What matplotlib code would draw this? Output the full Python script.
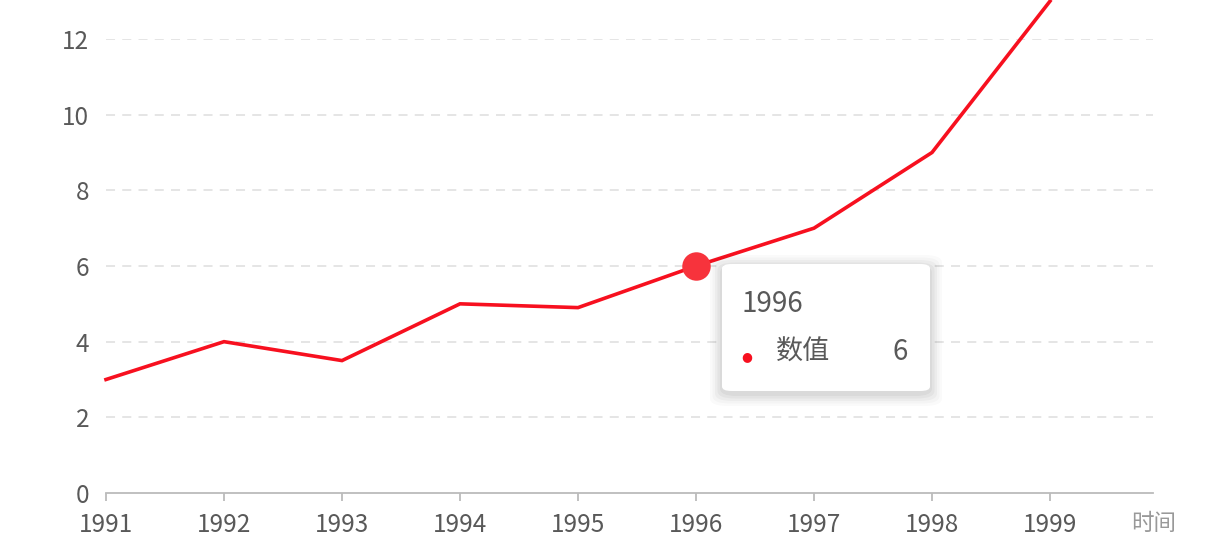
import matplotlib.pyplot as plt
from matplotlib.patches import FancyBboxPatch

plt.rcParams['font.family'] = ['Noto Sans CJK SC', 'DejaVu Sans']

years = [1991, 1992, 1993, 1994, 1995, 1996, 1997, 1998, 1999]
values = [3, 4, 3.5, 5, 4.9, 6, 7, 9, 13]
y_ticks = [0, 2, 4, 6, 8, 10, 12]
hl_year = 1996
hl_value = 6
series_name = "数值"
x_name = "时间"

W, H = 1210, 550
fig = plt.figure(figsize=(W / 100, H / 100), dpi=100)
ax = fig.add_axes([106 / W, 1 - 493 / H, (1153 - 106) / W, (493 - 39) / H])

ax.set_xlim(1991, 1991 + (1153 - 106) / 118)
ax.set_ylim(0, 12)

for t in y_ticks[1:]:
    ax.axhline(t, color="#e3e3e3", lw=1.3, ls=(0, (5, 4)), zorder=1)

ax.plot(years, values, color="#f7101f", lw=2.6, clip_on=False, zorder=3,
        solid_joinstyle="miter")
ax.scatter([hl_year], [hl_value], s=420, color="#f7333c", zorder=4, clip_on=False,
           linewidths=0)

for s in ["top", "right", "left"]:
    ax.spines[s].set_visible(False)
ax.spines["bottom"].set_color("#bbbbbb")
ax.spines["bottom"].set_linewidth(1.3)

ax.set_xticks(years)
ax.set_xticklabels([str(y) for y in years])
ax.set_yticks(y_ticks)
ax.tick_params(axis="x", colors="#bbbbbb", length=6, width=1.3, labelcolor="#595959",
               labelsize=17.5, pad=8)
ax.tick_params(axis="y", length=0, labelcolor="#595959", labelsize=17.5, pad=12)

fig.text(1131 / W, 1 - 523 / H, x_name, color="#999999", fontsize=16.2,
         va="center", ha="left")

# tooltip box with soft shadow
for i, a in enumerate([0.02, 0.025, 0.03, 0.035, 0.04]):
    g = 12 - i * 2.5
    sh = FancyBboxPatch(((722 - g) / W, 1 - (391 + g + 3) / H),
                        (208 + 2 * g) / W, (127 + 2 * g) / H,
                        boxstyle="round,pad=0,rounding_size=0.014",
                        transform=fig.transFigure, facecolor="black", alpha=a,
                        edgecolor="none", zorder=5)
    fig.patches.append(sh)
box = FancyBboxPatch((722 / W, 1 - 391 / H), 208 / W, 127 / H,
                     boxstyle="round,pad=0,rounding_size=0.008",
                     transform=fig.transFigure, facecolor="white",
                     edgecolor="none", zorder=6)
fig.patches.append(box)
fig.text(742 / W, 1 - 304 / H, str(hl_year), color="#595959", fontsize=20,
         va="center", ha="left", zorder=7)
fig.text(747 / W, 1 - 357 / H, "●", color="#f7101f", fontsize=9,
         va="center", ha="center", zorder=7, family="DejaVu Sans")
fig.text(776 / W, 1 - 352 / H, series_name, color="#595959", fontsize=19.5,
         va="center", ha="left", zorder=7)
fig.text(908 / W, 1 - 352 / H, str(hl_value), color="#595959", fontsize=20,
         va="center", ha="right", zorder=7)

fig.savefig("out.png", dpi=100)
